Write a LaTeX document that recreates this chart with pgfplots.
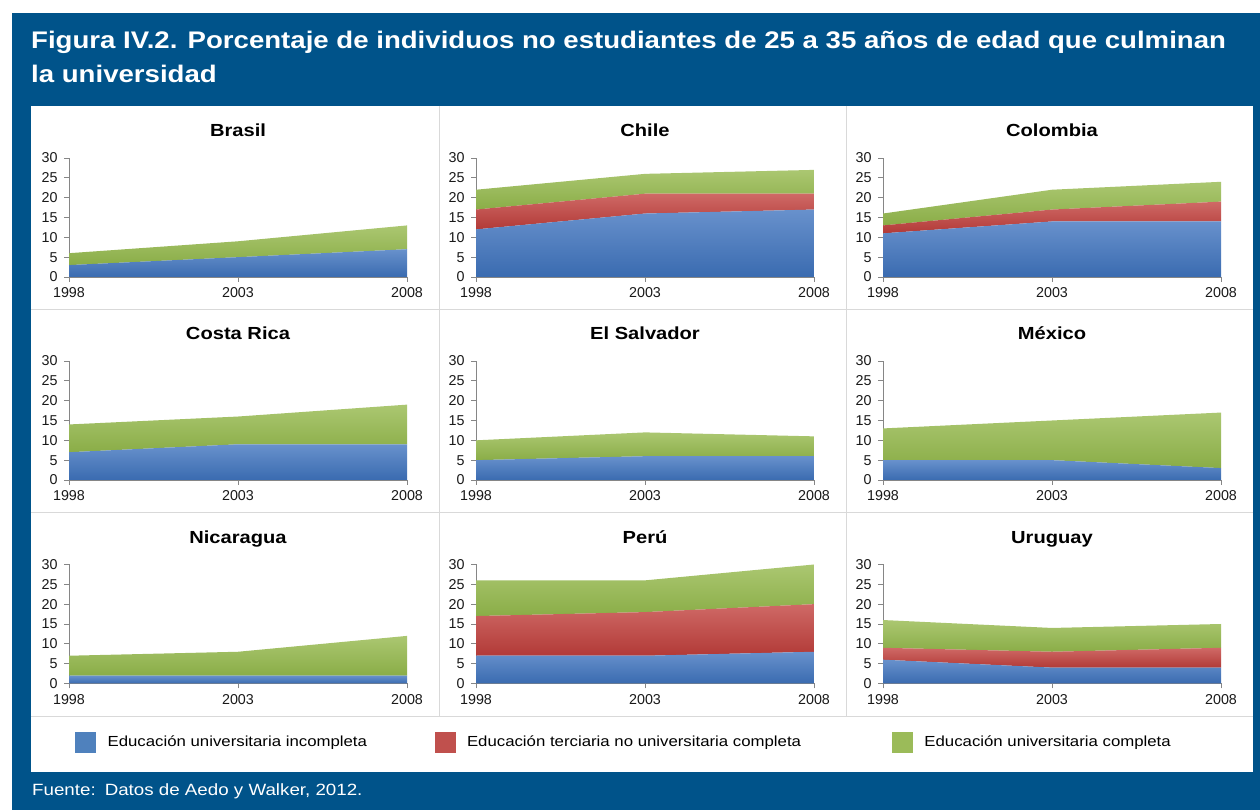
\documentclass[border=0pt]{standalone}
\usepackage{fontspec}
\setmainfont{Liberation Sans}
\newfontfamily\widefont{Liberation Sans}[FakeStretch=1.15]
\usepackage{pgfplots}
\pgfplotsset{compat=1.18}
\definecolor{framebg}{RGB}{0,83,138}
\definecolor{btop}{HTML}{6891CC}
\definecolor{bbot}{HTML}{3A6BB0}
\definecolor{rtop}{HTML}{CF6966}
\definecolor{rbot}{HTML}{B23A37}
\definecolor{gtop}{HTML}{ABC771}
\definecolor{gbot}{HTML}{8AAD47}
\definecolor{legblue}{HTML}{4F81BD}
\definecolor{legred}{HTML}{C0504D}
\definecolor{leggreen}{HTML}{9BBB59}
\definecolor{axisgray}{HTML}{868686}
\definecolor{sepgray}{HTML}{D9D9D9}
\pgfplotsset{
  panel/.style={
    scale only axis, width=338pt, height=119pt, anchor=south west,
    xmin=1998, xmax=2008, ymin=0, ymax=30,
    xtick={1998,2003,2008}, ytick={0,5,...,30},
    /pgf/number format/1000 sep={},
    /pgf/number format/assume math mode=true,
    axis lines*=left,
    axis line style={draw=axisgray, line width=0.8pt},
    tick style={draw=axisgray, line width=0.8pt},
    tick align=outside, major tick length=5pt,
    ticklabel style={font=\fontsize{14.3}{15}\selectfont, text=black!90},
    xticklabel style={yshift=-2pt},
    yticklabel style={xshift=-3pt},
    stack plots=y,
    title style={at={(0.5,1)}, anchor=base, yshift=15pt,
      font=\widefont\bfseries\fontsize{17.5}{19}\selectfont},
  },
  bl/.style={draw=none, top color=btop, bottom color=bbot},
  rd/.style={draw=none, top color=rtop, bottom color=rbot},
  gr/.style={draw=none, top color=gtop, bottom color=gbot},
}
% #1 x, #2 y, #3 title, #4 blue, #5 red, #6 green
\newcommand{\panelthree}[6]{%
  \begin{axis}[panel, at={(#1pt,#2pt)}, title={#3}]
    \addplot[bl] coordinates {#4} \closedcycle;
    \addplot[rd] coordinates {#5} \closedcycle;
    \addplot[gr] coordinates {#6} \closedcycle;
  \end{axis}}
\newcommand{\paneltwo}[5]{%
  \begin{axis}[panel, at={(#1pt,#2pt)}, title={#3}]
    \addplot[bl] coordinates {#4} \closedcycle;
    \addplot[gr] coordinates {#5} \closedcycle;
  \end{axis}}
\begin{document}
\begin{tikzpicture}
  \fill[white] (0pt,0pt) rectangle (1260pt,810pt);
  \fill[framebg] (12pt,0pt) rectangle (1260pt,797pt);
  \fill[white] (31pt,38pt) rectangle (1253pt,704pt);
  \draw[sepgray, line width=1pt] (439pt,704pt) -- (439pt,93pt);
  \draw[sepgray, line width=1pt] (846pt,704pt) -- (846pt,93pt);
  \draw[sepgray, line width=1pt] (31pt,500pt) -- (1253pt,500pt);
  \draw[sepgray, line width=1pt] (31pt,297pt) -- (1253pt,297pt);
  \draw[sepgray, line width=1pt] (31pt,93pt) -- (1253pt,93pt);
  \node[anchor=base west, inner sep=0pt, text=white, font=\widefont\bfseries\fontsize{24}{26}\selectfont]
    at (31pt,761pt) {Figura IV.2. Porcentaje de individuos no estudiantes de 25 a 35 años de edad que culminan};
  \node[anchor=base west, inner sep=0pt, text=white, font=\widefont\bfseries\fontsize{24}{26}\selectfont]
    at (31pt,727pt) {la universidad};
  \node[anchor=base west, inner sep=0pt, text=white, font=\widefont\fontsize{16.3}{18}\selectfont]
    at (32pt,14pt) {Fuente:\hspace{9pt}Datos de Aedo y Walker, 2012.};

  % Row 1
  \paneltwo{69}{533}{Brasil}{(1998,3) (2003,5) (2008,7)}{(1998,3) (2003,4) (2008,6)}
  \panelthree{476}{533}{Chile}{(1998,12) (2003,16) (2008,17)}{(1998,5) (2003,5) (2008,4)}{(1998,5) (2003,5) (2008,6)}
  \panelthree{883}{533}{Colombia}{(1998,11) (2003,14) (2008,14)}{(1998,2) (2003,3) (2008,5)}{(1998,3) (2003,5) (2008,5)}
  % Row 2
  \paneltwo{69}{330}{Costa Rica}{(1998,7) (2003,9) (2008,9)}{(1998,7) (2003,7) (2008,10)}
  \paneltwo{476}{330}{El Salvador}{(1998,5) (2003,6) (2008,6)}{(1998,5) (2003,6) (2008,5)}
  \paneltwo{883}{330}{México}{(1998,5) (2003,5) (2008,3)}{(1998,8) (2003,10) (2008,14)}
  % Row 3
  \paneltwo{69}{126.5}{Nicaragua}{(1998,2) (2003,2) (2008,2)}{(1998,5) (2003,6) (2008,10)}
  \panelthree{476}{126.5}{Perú}{(1998,7) (2003,7) (2008,8)}{(1998,10) (2003,11) (2008,12)}{(1998,9) (2003,8) (2008,10)}
  \panelthree{883}{126.5}{Uruguay}{(1998,6) (2003,4) (2008,4)}{(1998,3) (2003,4) (2008,5)}{(1998,7) (2003,6) (2008,6)}

  % Legend
  \begin{axis}[hide axis, scale only axis, width=1260pt, height=810pt,
    at={(0pt,0pt)}, anchor=south west, xmin=0, xmax=1260, ymin=0, ymax=810,
    legend columns=3, legend cell align=left,
    legend image code/.code={\fill[#1] (0pt,-10pt) rectangle (20pt,10pt);},
    legend style={at={(axis cs:75,68)}, anchor=west, draw=none, fill=none,
      inner sep=0pt, nodes={inner sep=0pt},
      font=\widefont\fontsize{14.6}{16}\selectfont,
      /tikz/every odd column/.append style={column sep=12pt}}]
    \addlegendimage{legblue}
    \addlegendentry{\makebox[327pt][l]{Educación universitaria incompleta}}
    \addlegendimage{legred}
    \addlegendentry{\makebox[425pt][l]{Educación terciaria no universitaria completa}}
    \addlegendimage{leggreen}
    \addlegendentry{Educación universitaria completa}
  \end{axis}
\end{tikzpicture}
\end{document}
